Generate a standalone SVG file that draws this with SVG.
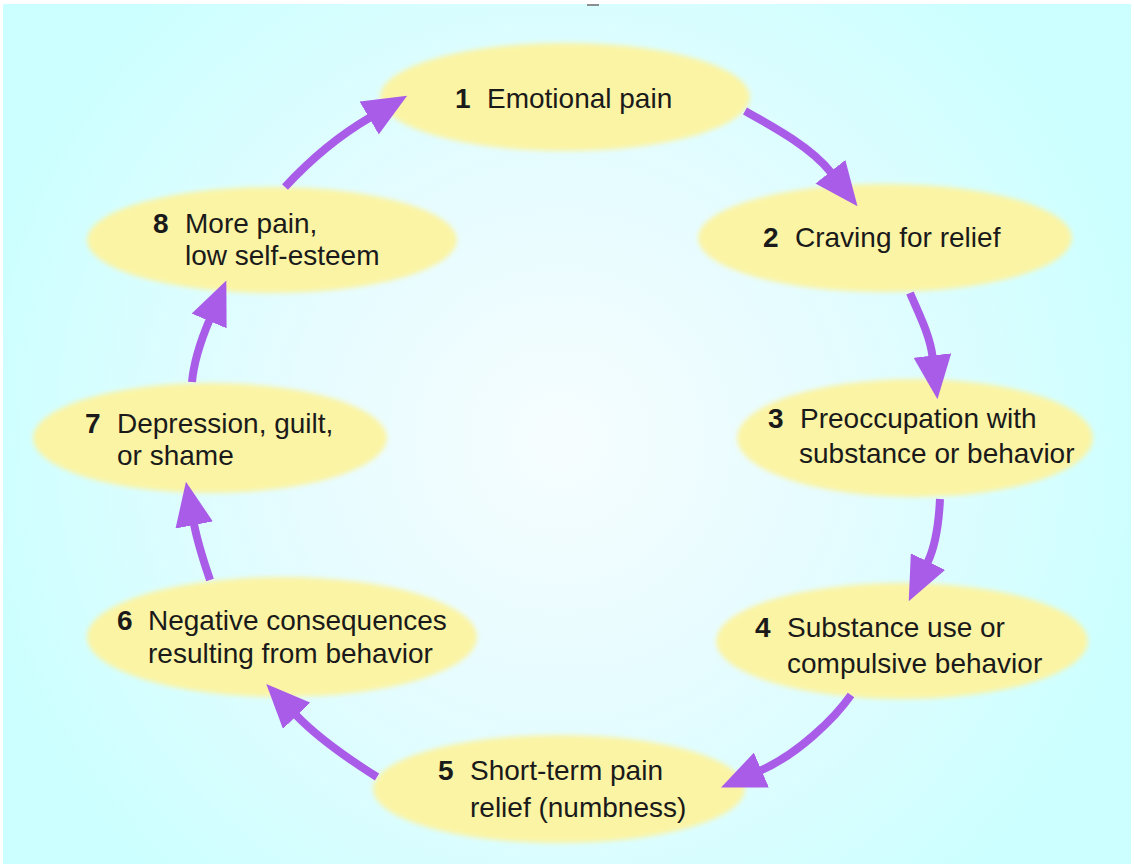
<svg xmlns="http://www.w3.org/2000/svg" width="1134" height="867" viewBox="0 0 1134 867">
  <defs>
    <radialGradient id="bg" cx="560" cy="440" r="600" gradientUnits="userSpaceOnUse">
      <stop offset="0" stop-color="#f6fdff"/>
      <stop offset="0.45" stop-color="#e6fcff"/>
      <stop offset="1" stop-color="#ccffff"/>
    </radialGradient>
    <filter id="soft" x="-10%" y="-20%" width="120%" height="140%">
      <feGaussianBlur stdDeviation="2.5"/>
    </filter>
    <marker id="ah" viewBox="0 0 44 38" refX="1" refY="19" markerWidth="44" markerHeight="38" markerUnits="userSpaceOnUse" orient="auto">
      <path d="M0,0 L44,19 L0,38 z" fill="#a95ce8"/>
    </marker>
  </defs>
  <style>
    .node ellipse { fill: #fbf4a4; filter: url(#soft); }
    .node text { font-family: "Liberation Sans", Arial, sans-serif; font-size: 28px; fill: #1a1a1a; }
    .node text.num { font-weight: bold; }
    .edge { fill: none; stroke: #a95ce8; stroke-width: 8; marker-end: url(#ah); }
  </style>
  <rect width="1134" height="867" fill="#ffffff"/>
  <rect x="3" y="4" width="1128" height="860" fill="url(#bg)"/>
  <rect x="587" y="4" width="12" height="2" fill="#8a8f90"/>

  <g id="node1" class="node">
    <ellipse cx="565" cy="97" rx="185" ry="54"/>
    <text class="num" x="455" y="108">1</text>
    <text x="487" y="108">Emotional pain</text>
  </g>
  <g id="node2" class="node">
    <ellipse cx="885" cy="238" rx="187" ry="54"/>
    <text class="num" x="763" y="247">2</text>
    <text x="795" y="247">Craving for relief</text>
  </g>
  <g id="node3" class="node">
    <ellipse cx="915" cy="438" rx="178" ry="59"/>
    <text class="num" x="768" y="428">3</text>
    <text x="800" y="428">Preoccupation with</text>
    <text x="799" y="463">substance or behavior</text>
  </g>
  <g id="node4" class="node">
    <ellipse cx="902" cy="641" rx="186" ry="58"/>
    <text class="num" x="755" y="637">4</text>
    <text x="787" y="637">Substance use or</text>
    <text x="787" y="673">compulsive behavior</text>
  </g>
  <g id="node5" class="node">
    <ellipse cx="559" cy="789" rx="186" ry="54"/>
    <text class="num" x="438" y="780">5</text>
    <text x="470" y="780">Short-term pain</text>
    <text x="470" y="817">relief (numbness)</text>
  </g>
  <g id="node6" class="node">
    <ellipse cx="282" cy="637" rx="195" ry="60"/>
    <text class="num" x="117" y="630">6</text>
    <text x="148" y="630">Negative consequences</text>
    <text x="148" y="663">resulting from behavior</text>
  </g>
  <g id="node7" class="node">
    <ellipse cx="210" cy="438" rx="177" ry="55"/>
    <text class="num" x="85" y="433">7</text>
    <text x="117" y="433">Depression, guilt,</text>
    <text x="117" y="465">or shame</text>
  </g>
  <g id="node8" class="node">
    <ellipse cx="272" cy="240" rx="185" ry="53"/>
    <text class="num" x="153" y="233">8</text>
    <text x="185" y="233">More pain,</text>
    <text x="185" y="265">low self-esteem</text>
  </g>

  <g id="connectors">
    <path class="edge" d="M745,111 C772,126 811,147 831,172.5"/>
    <path class="edge" d="M910,293 C918,312 930,335 932.5,356.5"/>
    <path class="edge" d="M940,499 C939,520 935.5,546 927.5,562.5"/>
    <path class="edge" d="M851,695 C835,718 797.5,754.5 760.5,770.5"/>
    <path class="edge" d="M377,777 C350,760 318,738 296,715"/>
    <path class="edge" d="M210,580 C204,562 198,545 194,524"/>
    <path class="edge" d="M192,382 C194,360 201,340 209.5,320"/>
    <path class="edge" d="M285,187 C310,160 340,135 370,117.5"/>
  </g>
</svg>
